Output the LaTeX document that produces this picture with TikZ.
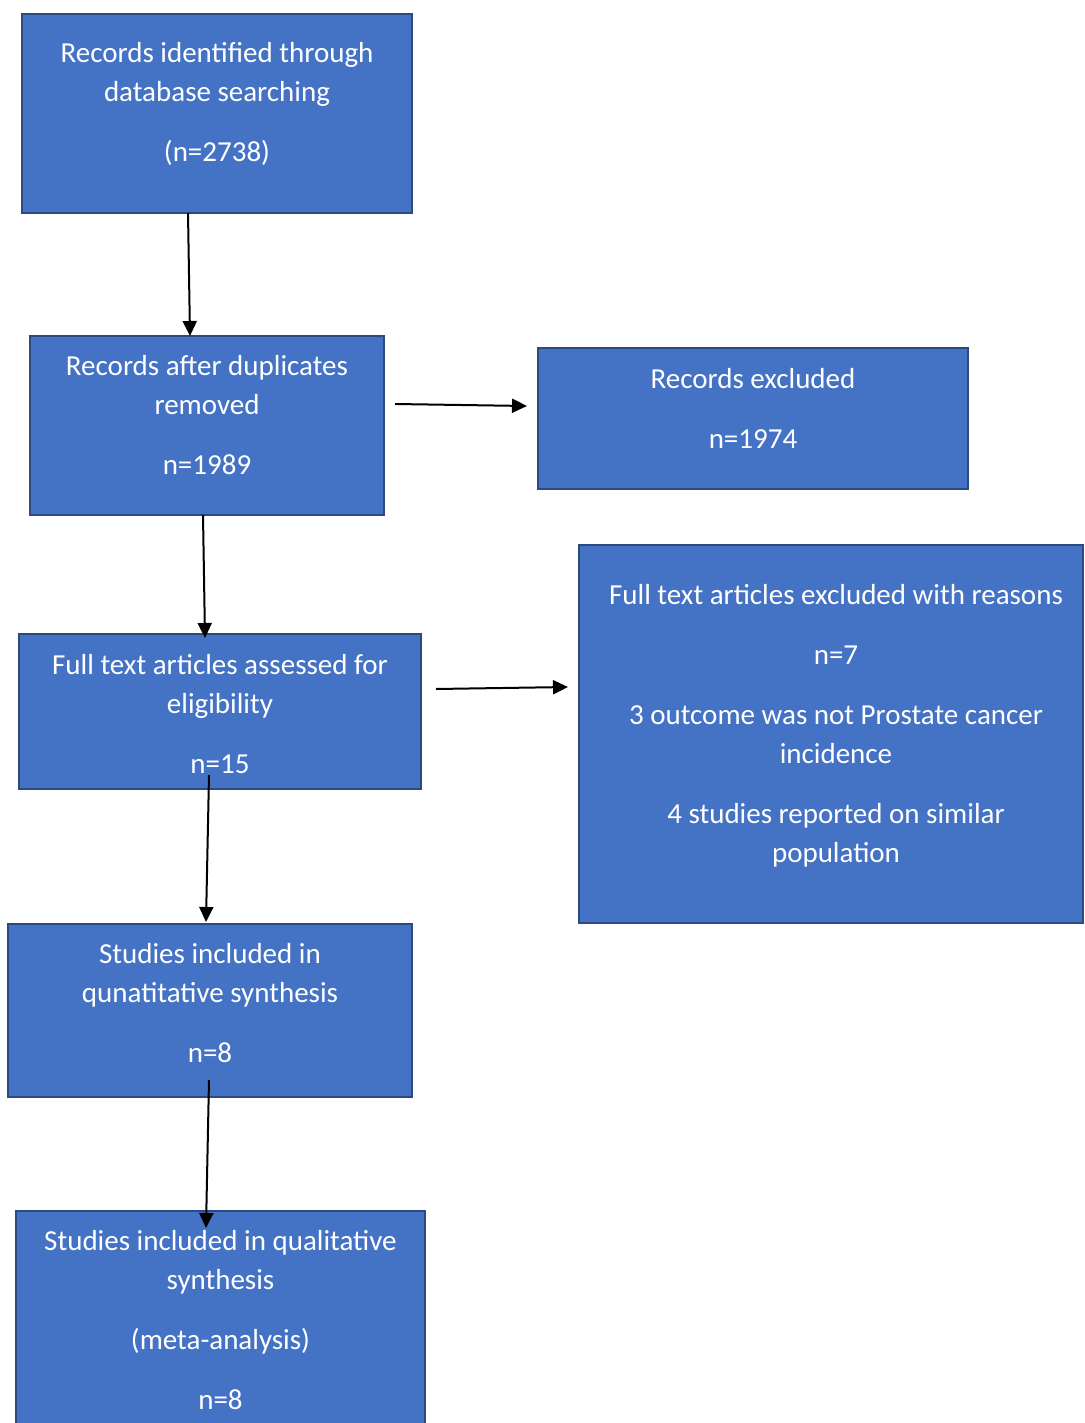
\documentclass[tikz,border=0pt]{standalone}
\usepackage{fontspec}
\setmainfont{Carlito}
\usetikzlibrary{arrows.meta,positioning}

\definecolor{boxfill}{HTML}{4472C4}
\definecolor{boxline}{HTML}{2A4A80}

\begin{document}
\begin{tikzpicture}[x=1pt,y=-1pt,->,>={Triangle[length=15pt,width=14pt]},line width=2pt,
				box/.style={rectangle,draw=boxline,fill=boxfill,line width=2.5pt,anchor=north west,inner sep=0pt,outer sep=0pt},
				label text/.style={text=white,align=center,inner sep=0pt,font=\fontsize{29}{39}\selectfont}]
				
				\useasboundingbox (0,0) rectangle (1084,1423);
				\clip (0,0) rectangle (1084,1423);
				
				\node[box,minimum width=390pt,minimum height=199pt] (ident) at (22,14) {};
				\node[box,minimum width=354pt,minimum height=179pt] (dupl) at (30,336) {};
				\node[box,minimum width=430pt,minimum height=141pt] (excl) at (538,348) {};
				\node[box,minimum width=402pt,minimum height=155pt] (full) at (19,634) {};
				\node[box,minimum width=504pt,minimum height=378pt] (fullexcl) at (579,545) {};
				\node[box,minimum width=404pt,minimum height=173pt] (quant) at (8,924) {};
				\node[box,minimum width=409pt,minimum height=300pt] (qual) at (16,1211) {};
				
				\node[label text,below=27pt of ident.north] (identtext) {Records identified through\\database searching\\[21pt](n=2738)};
				\node[label text,below=18pt of dupl.north] (dupltext) {Records after duplicates\\removed\\[21pt]n=1989};
				\node[label text,below=19pt of excl.north] (excltext) {Records excluded\\[21pt]n=1974};
				\node[label text,below=19pt of full.north] (fulltext) {Full text articles assessed for\\eligibility\\[21pt]n=15};
				\node[label text,below=38pt of fullexcl.north,xshift=5pt] (fullexcltext) {Full text articles excluded with reasons\\[21pt]n=7\\[21pt]3 outcome was not Prostate cancer\\incidence\\[21pt]4 studies reported on similar\\population};
				\node[label text,below=18pt of quant.north] (quanttext) {Studies included in\\qunatitative synthesis\\[21pt]n=8};
				\node[label text,below=18pt of qual.north] (qualtext) {Studies included in qualitative\\synthesis\\[21pt](meta-analysis)\\[21pt]n=8};
				
				% connectors
				\draw ([xshift=-29pt]ident.south) -- ([xshift=-17pt]dupl.north);
				\draw ([xshift=11pt,yshift=21.5pt]dupl.east) -- ([xshift=-11pt,yshift=12.5pt]excl.west);
				\draw ([xshift=-4pt]dupl.south) -- ([xshift=-15pt,yshift=-4pt]full.north);
				\draw ([xshift=15pt,yshift=22.5pt]full.east) -- ([xshift=-11pt,yshift=47pt]fullexcl.west);
				\draw ([xshift=-11pt,yshift=14pt]full.south) -- ([xshift=-4pt,yshift=2pt]quant.north);
				\draw ([xshift=-1pt,yshift=17pt]quant.south) -- ([xshift=-14.5pt,yshift=-17pt]qual.north);
				
\end{tikzpicture}
\end{document}
